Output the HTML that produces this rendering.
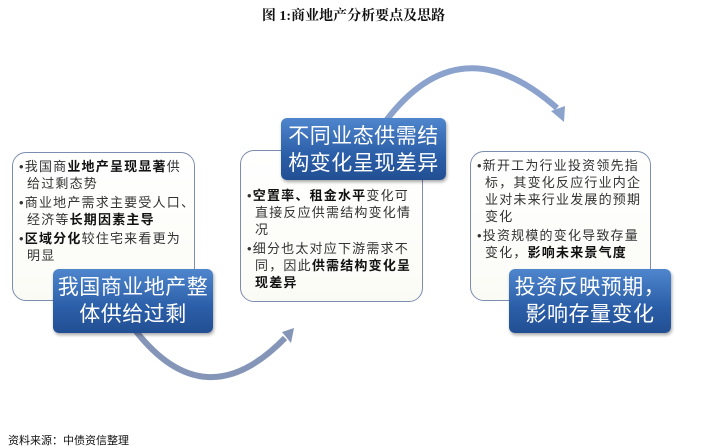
<!DOCTYPE html>
<html><head><meta charset="utf-8"><style>
body{margin:0;width:707px;height:448px;background:#fff;position:relative;overflow:hidden;font-family:"Liberation Sans","Noto Sans CJK SC",sans-serif;}
.t{position:absolute;left:0;width:707px;top:5px;text-align:center;font:bold 14px "Liberation Serif","Noto Serif CJK SC",serif;color:#111;}
.src{position:absolute;left:8px;top:432px;font-size:11px;color:#111;}
.box{position:absolute;border:1.5px solid #7d8db0;border-radius:14px;background:linear-gradient(#fff,#fbfbf6);box-sizing:border-box;padding:5px 6px 0 6px;font-size:13px;line-height:17px;color:#333;letter-spacing:1.2px;}
.box p{margin:0 0 2px 0;padding-left:8px;text-indent:-8px;}
.box b{color:#111;}
.lab{position:absolute;border-radius:6px;background:linear-gradient(#4f86cc,#2b5ea8 60%,#224f93);color:#fff;font-size:21px;line-height:27px;text-align:center;box-sizing:border-box;padding-top:5px;box-shadow:1px 2px 3px rgba(0,0,0,.35);letter-spacing:0.5px;}
svg{position:absolute;left:0;top:0;}
</style></head><body>
<div class="t">图 1:商业地产分析要点及思路</div>
<svg width="707" height="448">
<path d="M135 330 Q205 420 285 338" fill="none" stroke="#8595b8" stroke-width="6"/>
<polygon points="294,328 282,332 291,343" fill="#8595b8"/>
<path d="M385 122 Q460 22 557 108" fill="none" stroke="#8aa2cc" stroke-width="6"/>
<polygon points="564,122 551,111 565,106" fill="#8aa2cc"/>
</svg>
<div class="box" style="left:12px;top:152px;width:183px;height:149px;white-space:nowrap;">
<p>•我国商<b>业地产呈现显著</b>供<br>给过剩态势</p>
<p>•商业地产需求主要受人口、<br>经济等<b>长期因素主导</b></p>
<p>•<b>区域分化</b>较住宅来看更为<br>明显</p>
</div>
<div class="box" style="left:240px;top:150px;width:183px;height:152px;padding-top:36px;">
<p>•<b>空置率、租金水平</b>变化可直接反应供需结构变化情况</p>
<p>•细分也太对应下游需求不同，因此<b>供需结构变化呈现差异</b></p>
</div>
<div class="box" style="left:470px;top:151px;width:181px;height:150px;">
<p>•新开工为行业投资领先指标，其变化反应行业内企业对未来行业发展的预期变化</p>
<p>•投资规模的变化导致存量变化，<b>影响未来景气度</b></p>
</div>
<div class="lab" style="left:53px;top:269px;width:160px;height:64px;">我国商业地产整<br>体供给过剩</div>
<div class="lab" style="left:281px;top:118px;width:165px;height:62px;">不同业态供需结<br>构变化呈现差异</div>
<div class="lab" style="left:509px;top:269px;width:162px;height:64px;">投资反映预期，<br>影响存量变化</div>
<div class="src">资料来源：中债资信整理</div>
</body></html>
